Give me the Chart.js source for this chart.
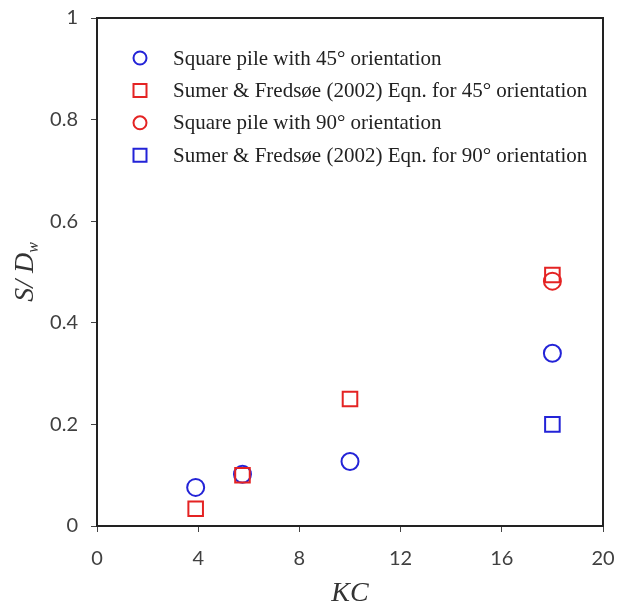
<!DOCTYPE html>
<html>
<head>
<meta charset="utf-8">
<script src="https://cdn.jsdelivr.net/npm/chart.js@4.4.1/dist/chart.umd.min.js"></script>
<style>
    body { margin: 0; background: #fff; }
    #wrap { width: 618px; height: 603px; }
</style>
</head>
<body>
<div id="wrap"><canvas id="myChart" width="618" height="603"></canvas></div>
<script>
// values
var kc_45 = [3.9, 5.75, 10, 18];
var s_45 = [0.076, 0.102, 0.127, 0.34];
var kc_eq45 = [3.9, 5.75, 10, 18];
var s_eq45 = [0.034, 0.1, 0.25, 0.494];
var kc_90 = [18];
var s_90 = [0.482];
var kc_eq90 = [18];
var s_eq90 = [0.2];
var x_ticks = [0, 4, 8, 12, 16, 20];
var y_ticks = [0, 0.2, 0.4, 0.6, 0.8, 1];

var blue = "rgb(35,35,215)";
var red = "rgb(228,35,35)";
var serif = "'Liberation Serif', 'Times New Roman', serif";

function pts(xs, ys) {
    let out = [];
    for (let i = 0; i < xs.length; i++) {
        out.push({ x: xs[i], y: ys[i] });
    }
    return out;
}

// frame, legend and axis titles
var extras = {
    id: "extras",
    afterDatasetsDraw(chart) {
        let ctx = chart.ctx;
        let a = chart.chartArea;
        ctx.save();
        ctx.strokeStyle = "#222";
        ctx.lineWidth = 2;
        ctx.strokeRect(a.left, a.top, a.right - a.left, a.bottom - a.top);

        // legend
        let ds = chart.data.datasets;
        ctx.font = "21px " + serif;
        ctx.textBaseline = "middle";
        ctx.textAlign = "left";
        for (let i = 0; i < ds.length; i++) {
            let y = 58 + i * 32.4;
            ctx.strokeStyle = ds[i].borderColor;
            ctx.lineWidth = 2;
            ctx.beginPath();
            if (ds[i].pointStyle == "rect") {
                ctx.rect(140 - 6.5, y - 6.5, 13, 13);
            } else {
                ctx.arc(140, y, 6.5, 0, Math.PI * 2);
            }
            ctx.stroke();
            ctx.fillStyle = "#222";
            ctx.fillText(ds[i].label, 173, y + 1);
        }

        // x title
        ctx.font = "italic 28px " + serif;
        ctx.textAlign = "center";
        ctx.textBaseline = "alphabetic";
        ctx.fillStyle = "#333";
        ctx.fillText("KC", (a.left + a.right) / 2, 601);

        // y title with subscript
        ctx.translate(33, (a.top + a.bottom) / 2);
        ctx.rotate(-Math.PI / 2);
        let main = "S/ D";
        ctx.font = "italic 28px " + serif;
        let w1 = ctx.measureText(main).width;
        ctx.font = "italic 16px " + serif;
        let w2 = ctx.measureText("w").width;
        let start = -(w1 + w2) / 2;
        ctx.textAlign = "left";
        ctx.font = "italic 28px " + serif;
        ctx.fillText(main, start, 0);
        ctx.font = "italic 16px " + serif;
        ctx.fillText("w", start + w1, 5);
        ctx.restore();
    }
};

var ctx = document.getElementById("myChart");
var chart = new Chart(ctx, {
    type: "scatter",
    data: {
        datasets: [
            {
                label: "Square pile with 45\u00B0 orientation",
                data: pts(kc_45, s_45),
                pointStyle: "circle",
                pointRadius: 8.5,
                borderColor: blue,
                backgroundColor: "rgba(0,0,0,0)",
                borderWidth: 2,
                order: 4
            },
            {
                label: "Sumer & Freds\u00F8e (2002) Eqn. for 45\u00B0 orientation",
                data: pts(kc_eq45, s_eq45),
                pointStyle: "rect",
                pointRadius: 10.3,
                borderColor: red,
                backgroundColor: "rgba(0,0,0,0)",
                borderWidth: 2,
                order: 1
            },
            {
                label: "Square pile with 90\u00B0 orientation",
                data: pts(kc_90, s_90),
                pointStyle: "circle",
                pointRadius: 8.5,
                borderColor: red,
                backgroundColor: "rgba(0,0,0,0)",
                borderWidth: 2,
                order: 2
            },
            {
                label: "Sumer & Freds\u00F8e (2002) Eqn. for 90\u00B0 orientation",
                data: pts(kc_eq90, s_eq90),
                pointStyle: "rect",
                pointRadius: 10.3,
                borderColor: blue,
                backgroundColor: "rgba(0,0,0,0)",
                borderWidth: 2,
                order: 3
            }
        ]
    },
    options: {
        responsive: false,
        animation: false,
        layout: { padding: { top: 18, right: 15, left: 0, bottom: 0 } },
        scales: {
            x: {
                type: "linear",
                min: 0,
                max: 20,
                afterBuildTicks: (s) => { s.ticks = x_ticks.map(v => ({ value: v })); },
                afterFit: (s) => { s.height = 77; s.paddingLeft = 0; s.paddingRight = 0; },
                grid: { drawOnChartArea: false, tickLength: 6, color: "#444", lineWidth: 1 },
                border: { color: "#222", width: 2 },
                ticks: { padding: 15, color: "#404040", font: { family: "Lato", size: 20 } }
            },
            y: {
                type: "linear",
                min: 0,
                max: 1,
                afterBuildTicks: (s) => { s.ticks = y_ticks.map(v => ({ value: v })); },
                afterFit: (s) => { s.width = 97; s.paddingTop = 0; s.paddingBottom = 0; },
                grid: { drawOnChartArea: false, tickLength: 6, color: "#444", lineWidth: 1 },
                border: { color: "#222", width: 2 },
                ticks: {
                    padding: 13, color: "#404040", font: { family: "Lato", size: 20 },
                    callback: (v) => String(v)
                }
            }
        },
        plugins: {
            legend: { display: false },
            tooltip: { enabled: false }
        }
    },
    plugins: [extras]
});
</script>
</body>
</html>
